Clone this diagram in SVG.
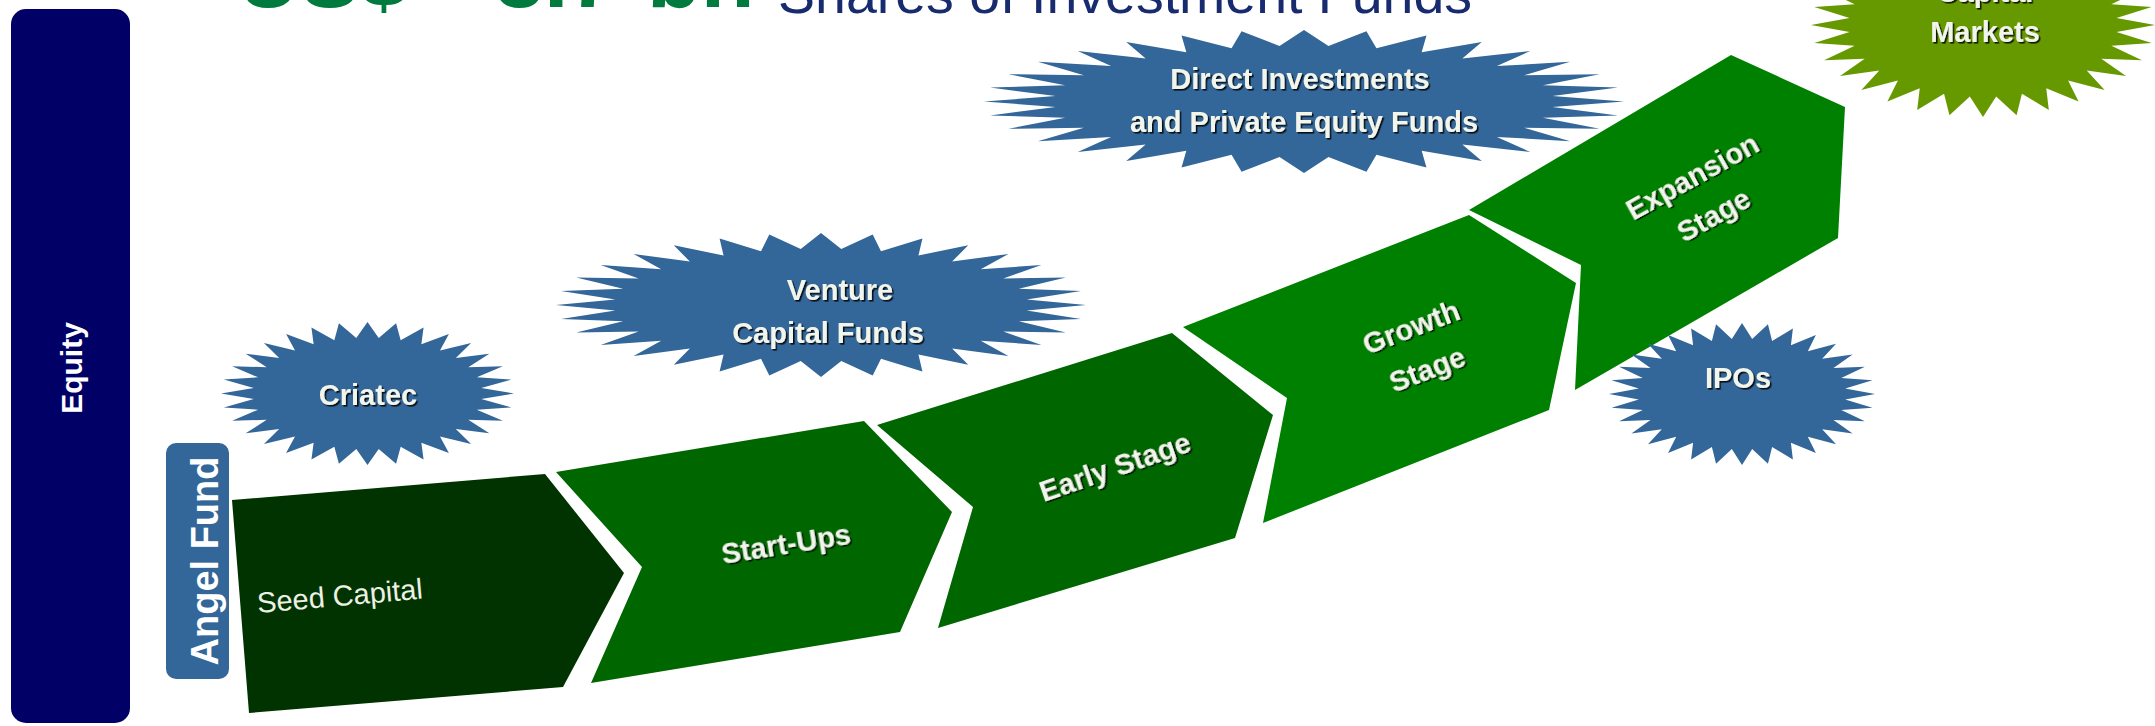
<svg xmlns="http://www.w3.org/2000/svg" width="2155" height="726" viewBox="0 0 2155 726">
<style>
.lbl{font-family:"Liberation Sans",Arial,sans-serif;font-weight:bold;font-size:29px;fill:#F2F5EC;text-anchor:middle;filter:url(#sh)}
.star{fill:#336699}
.side{font-family:"Liberation Sans",Arial,sans-serif;font-weight:bold;fill:#FFFFFF;text-anchor:middle}
</style>
<defs>
<filter id="sh" x="-10%" y="-20%" width="130%" height="150%"><feDropShadow dx="1.6" dy="1.6" stdDeviation="0.6" flood-color="#000" flood-opacity="0.85"/></filter>
<path id="starShape" d="M100,0 L77.62,7.65 98.08,19.51 74.64,22.64 92.39,38.27 68.79,36.77 83.15,55.56 60.29,49.48 70.71,70.71 49.48,60.29 55.56,83.15 36.77,68.79 38.27,92.39 22.64,74.64 19.51,98.08 7.65,77.62 0,100 -7.65,77.62 -19.51,98.08 -22.64,74.64 -38.27,92.39 -36.77,68.79 -55.56,83.15 -49.48,60.29 -70.71,70.71 -60.29,49.48 -83.15,55.56 -68.79,36.77 -92.39,38.27 -74.64,22.64 -98.08,19.51 -77.62,7.65 -100,0 -77.62,-7.65 -98.08,-19.51 -74.64,-22.64 -92.39,-38.27 -68.79,-36.77 -83.15,-55.56 -60.29,-49.48 -70.71,-70.71 -49.48,-60.29 -55.56,-83.15 -36.77,-68.79 -38.27,-92.39 -22.64,-74.64 -19.51,-98.08 -7.65,-77.62 0,-100 7.65,-77.62 19.51,-98.08 22.64,-74.64 38.27,-92.39 36.77,-68.79 55.56,-83.15 49.48,-60.29 70.71,-70.71 60.29,-49.48 83.15,-55.56 68.79,-36.77 92.39,-38.27 74.64,-22.64 98.08,-19.51 77.62,-7.65 Z"/>
</defs>
<rect width="2155" height="726" fill="#FFFFFF"/>

<g id="title">
<text y="7" font-family="Liberation Sans,Arial,sans-serif" font-weight="bold" font-size="88" fill="#007A3D"><tspan x="237">US$</tspan><tspan x="495">3.7</tspan><tspan x="647">bn</tspan></text>
<text x="778" y="13" font-family="Liberation Sans,Arial,sans-serif" font-size="55.5" fill="#172B6E">Shares of Investment Funds</text>
</g>

<g id="equity">
<rect x="11" y="9" width="119" height="714" rx="15" fill="#000066"/>
<text class="side" font-size="30" transform="translate(82,368) rotate(-90)">Equity</text>
</g>

<g id="angel-fund">
<rect x="166" y="443" width="63" height="236" rx="10" fill="#336699"/>
<text class="side" font-size="38" transform="translate(218,561) rotate(-90)">Angel Fund</text>
</g>

<g id="seed-capital">
<polygon points="232,500 545,474 624,573 563,687 249,713" fill="#003300"/>
<text x="258" y="613" transform="rotate(-5 258 613)" font-family="Liberation Sans,Arial,sans-serif" font-size="29" fill="#EEF0E4">Seed Capital</text>
</g>

<g id="start-ups">
<polygon points="556,472 864,421 952,512 900,632 591,683 642,567" fill="#006600"/>
<text class="lbl" x="786" y="554" transform="rotate(-9 786 544)">Start-Ups</text>
</g>

<g id="early-stage">
<polygon points="877,425 1172,333 1273,415 1235,538 938,628 973,507" fill="#006600"/>
<text class="lbl" x="1115" y="477" transform="rotate(-19 1115 467)">Early Stage</text>
</g>

<g id="growth-stage">
<polygon points="1183,327 1469,215 1576,283 1549,410 1263,523 1287,398" fill="#008000"/>
<g transform="rotate(-21 1419 348)">
<text class="lbl" x="1419" y="336">Growth</text>
<text class="lbl" x="1419" y="381">Stage</text>
</g>
</g>

<g id="expansion-stage">
<polygon points="1469,210 1731,55 1845,107 1838,238 1575,390 1581,265" fill="#008000"/>
<g transform="rotate(-29 1703 196)">
<text class="lbl" x="1703" y="184">Expansion</text>
<text class="lbl" x="1703" y="228">Stage</text>
</g>
</g>

<g id="criatec">
<use href="#starShape" class="star" transform="translate(367.5,393.5) scale(1.465,0.715)"/>
<text class="lbl" x="368" y="405">Criatec</text>
</g>

<g id="venture-capital-funds">
<use href="#starShape" class="star" transform="translate(821,305) scale(2.65,0.72)"/>
<text class="lbl" x="840" y="300">Venture</text>
<text class="lbl" x="828" y="343">Capital Funds</text>
</g>

<g id="direct-investments">
<use href="#starShape" class="star" transform="translate(1304,101.5) scale(3.2,0.715)"/>
<text class="lbl" x="1300" y="89">Direct Investments</text>
<text class="lbl" x="1304" y="132">and Private Equity Funds</text>
</g>

<g id="ipos">
<use href="#starShape" class="star" transform="translate(1742,394) scale(1.33,0.71)"/>
<text class="lbl" x="1738" y="388">IPOs</text>
</g>

<g id="capital-markets">
<use href="#starShape" fill="#669900" transform="translate(1983,25) scale(1.72,0.92)"/>
<text class="lbl" x="1985" y="2">Capital</text>
<text class="lbl" x="1985" y="42">Markets</text>
</g>

<g id="connectors"></g>
</svg>
